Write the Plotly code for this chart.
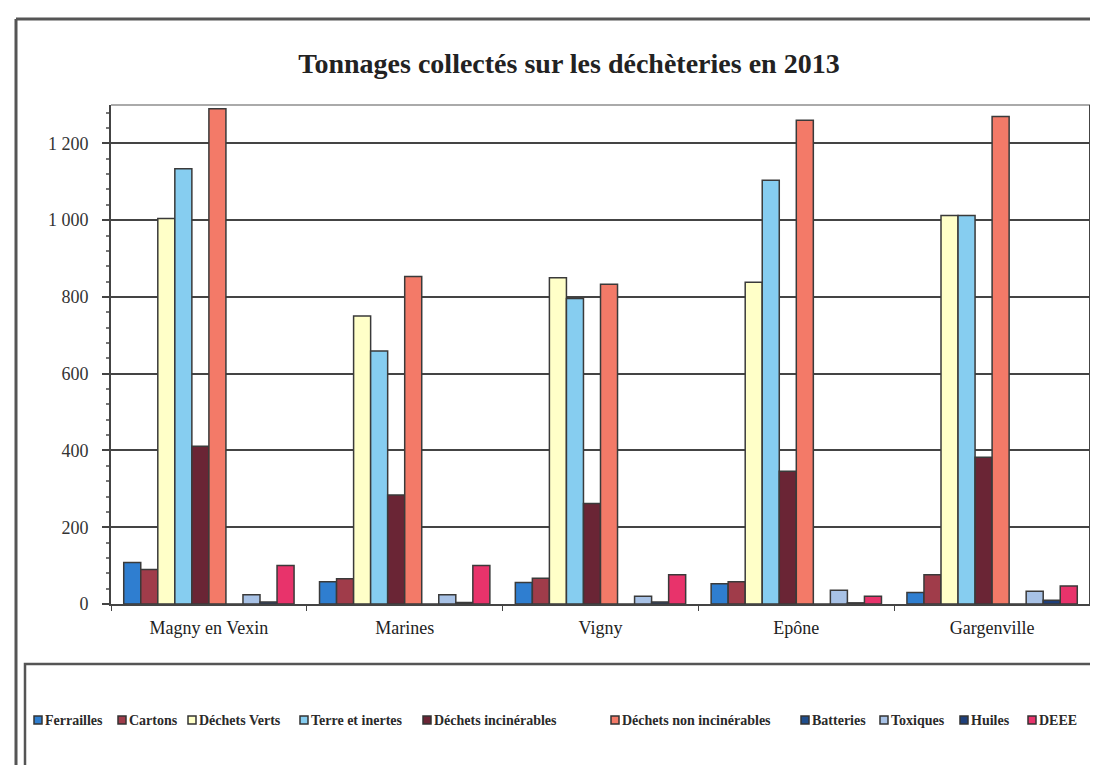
import plotly.graph_objects as go

# ---- data ----
sites = ["Magny en Vexin", "Marines", "Vigny", "Epône", "Gargenville"]
series_names = ["Ferrailles", "Cartons", "Déchets Verts", "Terre et inertes",
                "Déchets incinérables", "Déchets non incinérables",
                "Batteries", "Toxiques", "Huiles", "DEEE"]
ferrailles = [108, 58, 56, 53, 30]
cartons = [90, 66, 67, 58, 76]
dechets_verts = [1004, 750, 850, 838, 1012]
terre_inertes = [1134, 659, 796, 1104, 1012]
dechets_incinerables = [411, 284, 262, 346, 382]
dechets_non_incinerables = [1290, 853, 833, 1260, 1270]
batteries = [0, 0, 0, 0, 0]
toxiques = [24, 24, 20, 36, 33]
huiles = [5, 4, 5, 3, 10]
deee = [100, 100, 76, 20, 47]
y_tickvals = [0, 200, 400, 600, 800, 1000, 1200]
y_ticktext = ["0", "200", "400", "600", "800", "1 000", "1 200"]

series_values = [ferrailles, cartons, dechets_verts, terre_inertes,
                 dechets_incinerables, dechets_non_incinerables,
                 batteries, toxiques, huiles, deee]

# ---- styles / layout constants ----
colors = ["#2F7ED0", "#A03C4A", "#FFFFC8", "#86CDF0", "#6A2535",
          "#F37A68", "#1F4E8C", "#A8C2E6", "#1F3F7A", "#E8336B"]
legend_swatch_px = [26, 110, 180, 292, 415, 603, 793, 872, 952, 1020]  # left edge of each legend key
legend_y_px = 712

W, H = 1098, 765
L, R, T, B = 103, 1082, 97, 596  # plot area in px

fig = go.Figure()
for name, vals, col in zip(series_names, series_values, colors):
    fig.add_trace(go.Bar(
        name=name, x=sites, y=vals, showlegend=False,
        marker=dict(color=col, line=dict(color="#3a3a3a", width=1.5)),
    ))

def px_x(px):
    return (px - L) / (R - L)

def px_y(py):
    return (B - py) / (B - T)

serif = "Liberation Serif, Times New Roman, serif"

shapes = [
    # outer frame (top and left)
    dict(type="line", xref="paper", yref="paper", x0=px_x(8), x1=px_x(1100),
         y0=px_y(11), y1=px_y(11), line=dict(color="#555", width=3)),
    dict(type="line", xref="paper", yref="paper", x0=px_x(8), x1=px_x(8),
         y0=px_y(11), y1=px_y(766), line=dict(color="#555", width=3)),
    # legend box
    dict(type="rect", xref="paper", yref="paper", x0=px_x(17), x1=px_x(1110),
         y0=px_y(656), y1=px_y(763), line=dict(color="#555", width=2.5),
         fillcolor="rgba(0,0,0,0)"),
    # top border of plot area
    dict(type="line", xref="paper", yref="paper", x0=0, x1=1, y0=1, y1=1,
         line=dict(color="#aaaaaa", width=2)),
    # right border of plot area
    dict(type="line", xref="paper", yref="paper", x0=1, x1=1, y0=0, y1=1,
         line=dict(color="#444", width=2)),
]

annotations = []
# legend (single row, as in the original Excel chart)
for name, col, sx in zip(series_names, colors, legend_swatch_px):
    shapes.append(dict(type="rect", xref="paper", yref="paper",
                       x0=px_x(sx), x1=px_x(sx + 8),
                       y0=px_y(legend_y_px + 4), y1=px_y(legend_y_px - 4),
                       fillcolor=col, line=dict(color="#333", width=1.5)))
    annotations.append(dict(text="<b>" + name + "</b>", xref="paper", yref="paper",
                            x=px_x(sx + 9), y=px_y(legend_y_px),
                            xanchor="left", yanchor="middle", showarrow=False,
                            font=dict(family=serif, size=14, color="#2a2a2a")))
fig.update_layout(
    width=W, height=H,
    margin=dict(l=L, r=W - R, t=T, b=H - B, autoexpand=False),
    paper_bgcolor="white", plot_bgcolor="white",
    barmode="group", bargap=0.13, bargroupgap=0,
    title=dict(text="<b>Tonnages collectés sur les déchèteries en 2013</b>",
               x=561 / W, xref="container", xanchor="center",
               y=1 - 55 / H, yref="container", yanchor="middle",
               font=dict(family=serif, size=28, color="#222")),
    showlegend=False,
    shapes=shapes,
    annotations=annotations,
)

fig.update_yaxes(
    range=[0, 1300], tickvals=y_tickvals, ticktext=y_ticktext,
    showgrid=True, gridcolor="#444", gridwidth=2,
    showline=True, linecolor="#444", linewidth=2,
    ticks="outside", ticklen=7, tickwidth=2, tickcolor="#444",
    ticklabelstandoff=10,
    minor=dict(ticks="outside", dtick=40, ticklen=3, tickcolor="#777", showgrid=False),
    tickfont=dict(family=serif, size=18, color="#333"),
    zeroline=False,
)
fig.update_xaxes(
    showline=True, linecolor="#444", linewidth=2,
    ticks="outside", tickson="boundaries", ticklen=5, tickcolor="#444",
    ticklabelstandoff=6,
    tickfont=dict(family=serif, size=18, color="#222"),
    showgrid=False,
)

fig.write_html("out.html")
